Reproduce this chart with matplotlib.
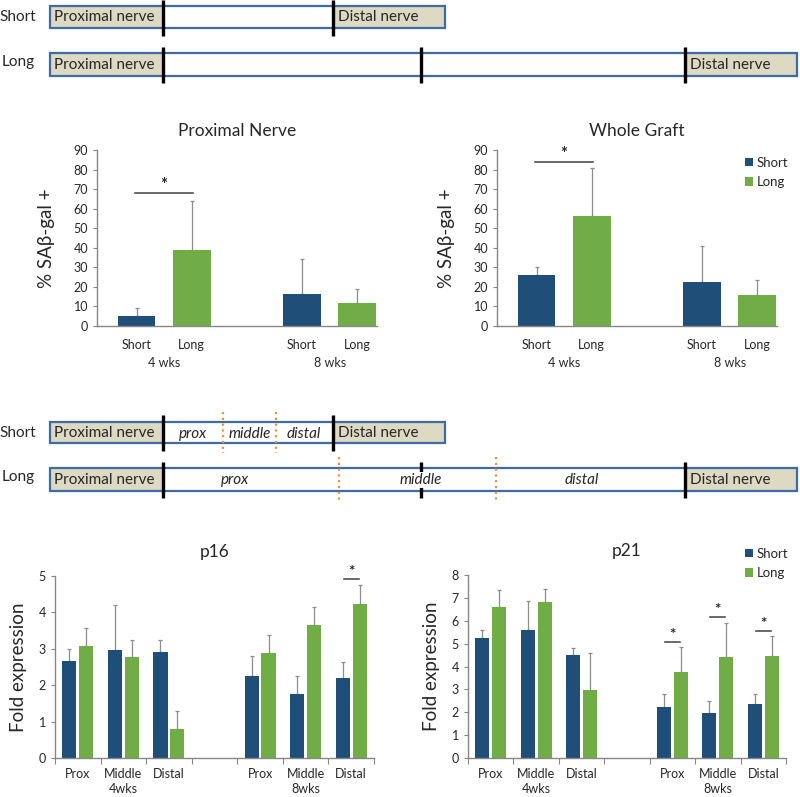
import matplotlib
matplotlib.use("Agg")
import matplotlib.pyplot as plt
from matplotlib.patches import Rectangle, Patch

plt.rcParams['font.family'] = ['Lato', 'DejaVu Sans']

W, H = 800, 797
SHORT_C = '#1F4E79'
LONG_C = '#70AD47'
ERR_C = '#8C8C8C'
AXIS_C = '#868686'
TXT_C = '#262626'
BEIGE = '#DDD9C3'
BORDER = '#3F6AA6'
ORANGE = '#F0913A'

# SA-beta-gal data (Short, Long at 4 wks, then Short, Long at 8 wks)
bar_labels = ['Short', 'Long', 'Short', 'Long']
weeks_top = ['4 wks', '8 wks']
prox_mean = [5.1, 38.7, 16.4, 11.8]
prox_sd = [4.1, 25.3, 17.7, 7.3]
whole_mean = [26.3, 56.1, 22.5, 16.0]
whole_sd = [3.9, 24.9, 18.3, 7.4]

# qPCR data: Prox, Middle, Distal at 4wks then at 8wks
regions = ['Prox', 'Middle', 'Distal']
weeks_bot = ['4wks', '8wks']
p16_short = [2.66, 2.96, 2.91, 2.24, 1.75, 2.19]
p16_short_sd = [0.34, 1.24, 0.32, 0.56, 0.50, 0.46]
p16_long = [3.07, 2.77, 0.80, 2.89, 3.66, 4.24]
p16_long_sd = [0.50, 0.48, 0.48, 0.49, 0.49, 0.51]
p16_sig = [(5, 4.92)]
p21_short = [5.25, 5.60, 4.52, 2.25, 1.96, 2.34]
p21_short_sd = [0.35, 1.27, 0.29, 0.55, 0.51, 0.46]
p21_long = [6.58, 6.80, 2.98, 3.75, 4.43, 4.45]
p21_long_sd = [0.76, 0.57, 1.60, 1.09, 1.47, 0.90]
p21_sig = [(3, 5.06), (4, 6.18), (5, 5.57)]

fig = plt.figure(figsize=(W / 100, H / 100), dpi=100)


def add_px(left, top, right, bottom):
    return fig.add_axes([left / W, 1 - bottom / H, (right - left) / W, (bottom - top) / H])


# ---- schematic nerve diagrams ----
d = fig.add_axes([0, 0, 1, 1])
d.set_xlim(0, W)
d.set_ylim(H, 0)
d.axis('off')


def nerve(x0, x1, y0, y1, p_end, d_start):
    d.add_patch(Rectangle((x0, y0), p_end - x0, y1 - y0, fc=BEIGE, ec='none'))
    d.add_patch(Rectangle((d_start, y0), x1 - d_start, y1 - y0, fc=BEIGE, ec='none'))
    d.add_patch(Rectangle((x0, y0), x1 - x0, y1 - y0, fc='none', ec=BORDER, lw=1.6))
    yc = (y0 + y1) / 2
    d.text(x0 + 4, yc, 'Proximal nerve', fontsize=11, va='center', ha='left', color=TXT_C)
    d.text(d_start + 5, yc, 'Distal nerve', fontsize=11, va='center', ha='left', color=TXT_C)


def cut(x, y0, y1):
    d.plot([x, x], [y0, y1], color='black', lw=2.4, solid_capstyle='butt')


def dotted(x, y0, y1):
    d.plot([x, x], [y0, y1], color=ORANGE, lw=1.6, ls=(0, (1, 1.6)))


# top diagram
d.text(18, 17, 'Short', fontsize=11, ha='center', va='center', color=TXT_C)
nerve(50, 445, 6, 28, 163, 333)
cut(163, 0, 36)
cut(333, 0, 36)
d.text(18, 62, 'Long', fontsize=11, ha='center', va='center', color=TXT_C)
nerve(50, 797, 53, 76, 163, 685)
for xc in (163, 421, 685):
    cut(xc, 47, 83)

# middle diagram
d.text(18, 433, 'Short', fontsize=11, ha='center', va='center', color=TXT_C)
nerve(50, 445, 422, 443, 163, 333)
cut(163, 415, 451)
cut(333, 415, 451)
dotted(223, 412, 453)
dotted(276, 412, 453)
for xt, s in zip((193, 250, 304), ('prox', 'middle', 'distal')):
    d.text(xt, 434, s, fontsize=11, style='italic', ha='center', va='center', color=TXT_C)
d.text(18, 477, 'Long', fontsize=11, ha='center', va='center', color=TXT_C)
nerve(50, 797, 468, 491, 163, 685)
for xc in (163, 421, 685):
    cut(xc, 462, 498)
dotted(339, 457, 501)
dotted(496, 457, 501)
for xt, s in zip((235, 421, 582), ('prox', 'middle', 'distal')):
    d.text(xt, 480, s, fontsize=11, style='italic', ha='center', va='center', color=TXT_C,
           bbox=dict(fc='white', ec='none', pad=0.5))


def style_axes(ax):
    for s in ('top', 'right'):
        ax.spines[s].set_visible(False)
    for s in ('left', 'bottom'):
        ax.spines[s].set_color(AXIS_C)
        ax.spines[s].set_linewidth(1.0)
    ax.tick_params(axis='y', colors=AXIS_C, labelcolor=TXT_C, labelsize=9, length=3, width=0.8)
    ax.tick_params(axis='x', colors=AXIS_C, labelcolor=TXT_C, labelsize=9, length=0)


def sig(ax, x0, x1, y, fs=12):
    ax.plot([x0, x1], [y, y], color='#404040', lw=1.1, clip_on=False)
    ax.text((x0 + x1) / 2, y, '*', ha='center', va='bottom', fontsize=fs, color=TXT_C,
            fontweight='bold')


def legend(ax, x, y):
    handles = [Patch(fc=SHORT_C, label='Short'), Patch(fc=LONG_C, label='Long')]
    ax.legend(handles=handles, loc='upper left', bbox_to_anchor=(x / W, 1 - y / H),
              bbox_transform=fig.transFigure, frameon=False, fontsize=9.5,
              handlelength=0.6, handleheight=0.6, handletextpad=0.3, labelspacing=0.55,
              labelcolor=TXT_C)


# ---- SA-beta-gal charts ----
def top_chart(rect, title, mean, sd, sig_y, show_legend=False):
    ax = add_px(*rect)
    x = [0, 1, 3, 4]
    cols = [SHORT_C, LONG_C, SHORT_C, LONG_C]
    ax.bar(x, mean, width=0.68, color=cols, zorder=2)
    ax.errorbar(x, mean, yerr=[[0] * 4, sd], fmt='none', ecolor=ERR_C, elinewidth=0.9,
                capsize=1.2, capthick=0.9, zorder=1)
    ax.set_xlim(-0.72, 4.36)
    ax.set_ylim(0, 90)
    ax.set_yticks(range(0, 91, 10))
    ax.set_xticks(x)
    ax.set_xticklabels(bar_labels)
    ax.tick_params(axis='x', pad=9)
    style_axes(ax)
    ax.set_title(title, fontsize=12.5, color=TXT_C, pad=10)
    ax.set_ylabel('% SA\u03b2-gal +', fontsize=13.5, color=TXT_C, labelpad=13)
    for xc, wk in zip((0.5, 3.5), weeks_top):
        ax.annotate(wk, (xc, 0), xycoords=('data', 'axes fraction'), xytext=(0, -37),
                    textcoords='offset pixels', ha='center', va='center', fontsize=9, color=TXT_C)
    sig(ax, -0.03, 1.02, sig_y)
    if show_legend:
        legend(ax, 733, 145)
    return ax


top_chart((97, 150, 377, 326), 'Proximal Nerve', prox_mean, prox_sd, 68)
top_chart((497, 150, 777, 326), 'Whole Graft', whole_mean, whole_sd, 84, show_legend=True)


# ---- p16 / p21 charts ----
def bottom_chart(rect, title, s_mean, s_sd, l_mean, l_sd, ymax, sigs, show_legend=False):
    ax = add_px(*rect)
    pos = [0, 1, 2, 4, 5, 6]
    off, bw = 0.185, 0.31
    xs = [p - off for p in pos]
    xl = [p + off for p in pos]
    ax.bar(xs, s_mean, width=bw, color=SHORT_C, zorder=2)
    ax.bar(xl, l_mean, width=bw, color=LONG_C, zorder=2)
    ax.errorbar(xs, s_mean, yerr=[[0] * 6, s_sd], fmt='none', ecolor=ERR_C, elinewidth=0.9,
                capsize=1.2, capthick=0.9, zorder=1)
    ax.errorbar(xl, l_mean, yerr=[[0] * 6, l_sd], fmt='none', ecolor=ERR_C, elinewidth=0.9,
                capsize=1.2, capthick=0.9, zorder=1)
    ax.set_xlim(-0.5, 6.5)
    ax.set_ylim(0, ymax)
    ax.set_yticks(range(0, ymax + 1))
    ax.set_xticks(pos)
    ax.set_xticklabels(regions * 2)
    ax.set_xticks([b - 0.5 for b in range(8)], minor=True)
    style_axes(ax)
    ax.tick_params(axis='x', which='major', pad=7)
    ax.tick_params(axis='x', which='minor', length=4, width=0.8, colors=AXIS_C)
    ax.set_title(title, fontsize=12.5, color=TXT_C, pad=14)
    ax.set_ylabel('Fold expression', fontsize=13.5, color=TXT_C, labelpad=8)
    for xc, wk in zip((1, 5), weeks_bot):
        ax.annotate(wk, (xc, 0), xycoords=('data', 'axes fraction'), xytext=(0, -31),
                    textcoords='offset pixels', ha='center', va='center', fontsize=9, color=TXT_C)
    for i, y in sigs:
        p = pos[i]
        sig(ax, p - off + 0.02, p + off - 0.02, y, fs=11)
    if show_legend:
        legend(ax, 733, 536)
    return ax


bottom_chart((55, 576, 374, 758), 'p16', p16_short, p16_short_sd, p16_long, p16_long_sd,
             5, p16_sig)
bottom_chart((468, 575, 786, 758), 'p21', p21_short, p21_short_sd, p21_long, p21_long_sd,
             8, p21_sig, show_legend=True)

fig.savefig('out.png', dpi=100)
